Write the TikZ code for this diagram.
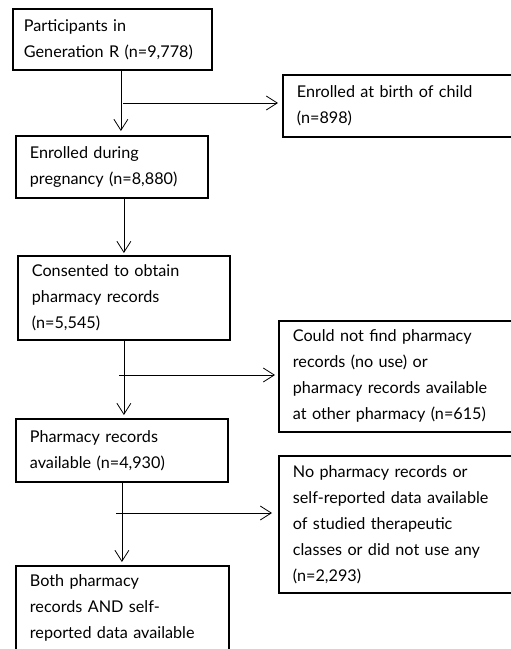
\documentclass[tikz,border=0pt]{standalone}
\usepackage{fontspec}
\setmainfont{Lato}
\usetikzlibrary{arrows.meta, positioning}

\tikzset{
  box/.style={draw, line width=1.8pt, align=left, anchor=north west,
    inner xsep=14pt, inner ysep=9pt, font=\fontsize{16.2}{26}\selectfont},
  arr/.style={line width=0.8pt,
    -{Straight Barb[length=11pt, width=14pt, line width=0.8pt]}}
}

\begin{document}
\begin{tikzpicture}[x=1pt, y=-1pt]
\useasboundingbox (0,0) rectangle (511,649);

% left column
\node (gen) [box, inner xsep=11pt, text width=177pt, minimum height=61pt] at (12,8)
  {Participants in\\\mbox{Generation R (n=9,778)}};
\node (preg) [box, text width=164pt, minimum height=62pt] at (15,135)
  {Enrolled during\\pregnancy (n=8,880)};
\node (cons) [box, text width=184pt, minimum height=83pt] at (17,255)
  {Consented to obtain\\pharmacy records\\(n=5,545)};
\node (avail) [box, text width=184pt, minimum height=63pt] at (15,418)
  {Pharmacy records\\available (n=4,930)};
\node (both) [box, text width=185pt, text depth=80pt] at (15,565)
  {Both pharmacy\\records AND self-\\reported data available};

% right column (exclusions)
\node (birth) [box, text width=240pt, minimum height=62pt] at (282,74)
  {Enrolled at birth of child\\(n=898)};
\node (nofind) [box, text width=240pt, minimum height=107pt] at (278,320)
  {Could not find pharmacy\\records (no use) or\\pharmacy records available\\at other pharmacy (n=615)};
\node (nodata) [box, text width=240pt, minimum height=137pt] at (278,455)
  {No pharmacy records or\\self-reported data available\\of studied therapeutic\\classes or did not use any\\(n=2,293)};

\coordinate (split1) at (123,103);
\coordinate (split2) at (119,375);
\coordinate (split3) at (116,513);

\draw[arr, shorten >=4pt] ([xshift=8.5pt]gen.south) -- ([xshift=8.5pt]gen.south |- preg.north);
\draw[arr, shorten >=2pt] (preg.south -| cons.north) -- (cons.north);
\draw[arr, shorten >=3pt] (cons.south) -- (cons.south |- avail.north);
\draw[arr, shorten >=3pt] (avail.south) -- (avail.south |- both.north);

\draw[arr, shorten >=4pt] (split1) -- (birth.west |- split1);
\draw[arr, shorten >=3pt] (split2) -- (nofind.west |- split2);
\draw[arr, shorten >=6pt] (split3) -- (nodata.west |- split3);
\end{tikzpicture}
\end{document}
